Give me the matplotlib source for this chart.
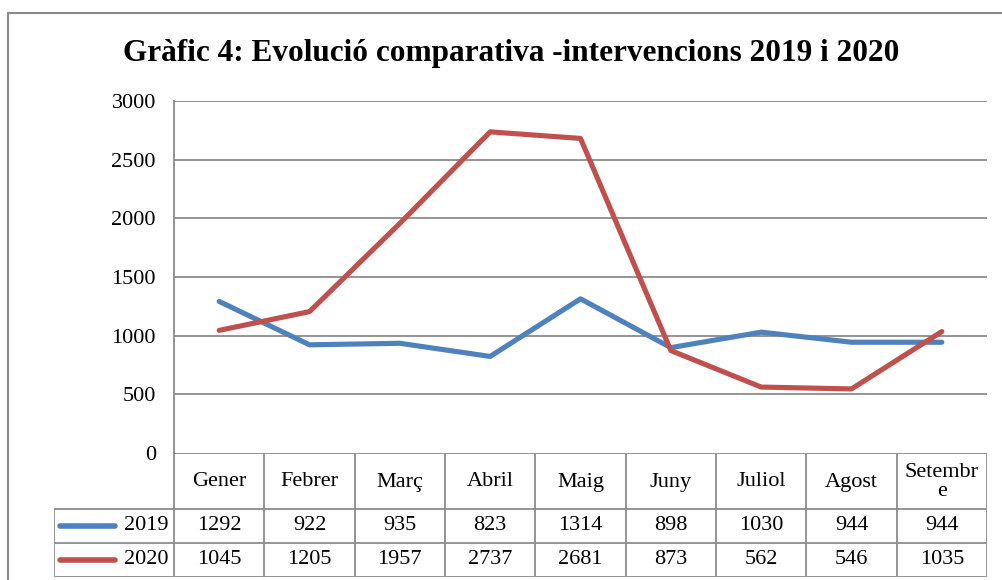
import matplotlib
matplotlib.use("Agg")
import matplotlib.pyplot as plt
from matplotlib.patches import Rectangle

months = ["Gener", "Febrer", "Març", "Abril", "Maig", "Juny", "Juliol", "Agost", "Setembr\ne"]
series_names = ["2019", "2020"]
values_2019 = [1292, 922, 935, 823, 1314, 898, 1030, 944, 944]
values_2020 = [1045, 1205, 1957, 2737, 2681, 873, 562, 546, 1035]
yticks = [0, 500, 1000, 1500, 2000, 2500, 3000]
title = "Gràfic 4: Evolució comparativa -intervencions 2019 i 2020"

colors = ["#4F81BD", "#C0504D"]
grid_c = "#8c8c8c"
plt.rcParams['font.family'] = ['Liberation Serif', 'DejaVu Serif']
FS = 16

W, H = 1003, 580
fig = plt.figure(figsize=(W / 100, H / 100), dpi=100)

def fx(px):
    return px / W

def fy(py):
    return 1 - py / H

# outer frame
fig.patches.append(Rectangle((fx(8), fy(H + 20)), fx(W + 20 - 8), fy(13) - fy(H + 20),
                             transform=fig.transFigure, fill=False, edgecolor="#8a8a8a", lw=1.5))

# main plot
L, R, T, B = 174, 987, 101, 453
ax = fig.add_axes([fx(L), fy(B), fx(R) - fx(L), fy(T) - fy(B)])
n = len(months)
xs = list(range(n))
for vals, c in zip([values_2019, values_2020], colors):
    ax.plot(xs, vals, color=c, lw=3.7, solid_capstyle="round", solid_joinstyle="round", zorder=3)
ax.set_xlim(-0.5, n - 0.5)
ax.set_ylim(0, 3000)
ax.set_yticks(yticks)
ax.set_yticklabels([str(v) for v in yticks], fontsize=FS)
ax.tick_params(axis="y", length=0, pad=13)
ax.set_xticks([])
for v in yticks[1:]:
    ax.axhline(v, color=grid_c, lw=1.3, zorder=1)
for s in ["top", "right", "bottom"]:
    ax.spines[s].set_visible(False)
ax.spines["left"].set_color(grid_c)
ax.spines["left"].set_linewidth(1.3)

fig.text(fx(511), fy(53), title, ha="center", va="center", fontsize=22.5, fontweight="bold")

# data table
TL, TT, TB = 54, 453, 577
cw = (R - L) / n
leg_w = (L - TL) / cw
tax = fig.add_axes([fx(TL), fy(TB), fx(R) - fx(TL), fy(TT) - fy(TB)])
tax.set_xlim(-0.5 - leg_w, n - 0.5)
tax.set_ylim(TB - TT, 0)
tax.axis("off")
hdr = 56
rowh = 34
lc = grid_c
lw = 1.3
tax.plot([-0.5, n - 0.5], [0, 0], color=lc, lw=lw)
for yy in [hdr, hdr + rowh, hdr + 2 * rowh]:
    tax.plot([-0.5 - leg_w, n - 0.5], [yy, yy], color=lc, lw=lw)
for i in range(n + 1):
    tax.plot([i - 0.5, i - 0.5], [0, hdr + 2 * rowh], color=lc, lw=lw)
tax.plot([-0.5 - leg_w] * 2, [hdr, hdr + 2 * rowh], color=lc, lw=lw)

for i, m in enumerate(months):
    tax.text(i, hdr / 2 + 1, m, ha="center", va="center", fontsize=FS, linespacing=0.95)
for r, (name, vals, c) in enumerate(zip(series_names, [values_2019, values_2020], colors)):
    yc = hdr + rowh * (r + 0.5)
    for i, v in enumerate(vals):
        tax.text(i, yc, str(v), ha="center", va="center", fontsize=FS)
    tax.plot([-0.5 - leg_w + 0.07, -0.5 - leg_w + 0.68], [yc, yc], color=c, lw=4,
             solid_capstyle="round")
    tax.text(-0.5 - 0.06, yc, name, ha="right", va="center", fontsize=FS)

fig.savefig("out.png", dpi=100)
